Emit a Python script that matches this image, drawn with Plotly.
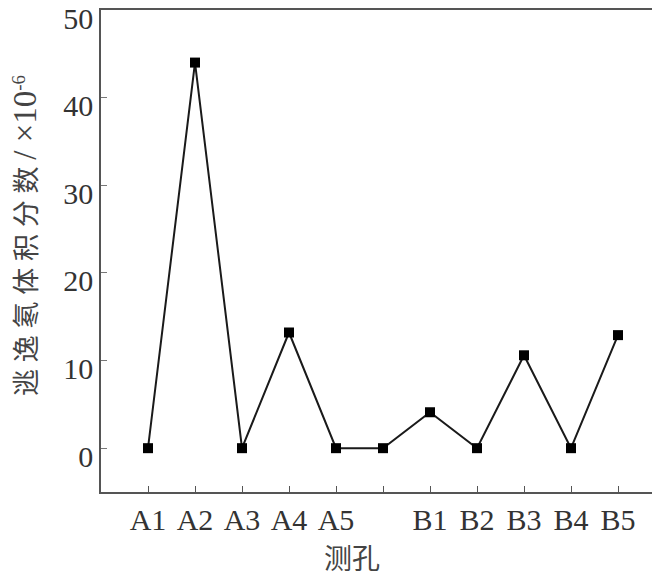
import plotly.graph_objects as go

categories = ["A1", "A2", "A3", "A4", "A5", "", "B1", "B2", "B3", "B4", "B5"]
values = [0, 44, 0, 13.2, 0, 0, 4.1, 0, 10.6, 0, 12.9]
y_ticks = [0, 10, 20, 30, 40, 50]

x_idx = list(range(len(categories)))

# the page body has an 8px margin, so figure coords = screen coords - 8
OFF = 8
W, H = 660, 583
L, R, T = 101 - OFF, 0, 2
B = H - (492 - OFF)
PW, PH = W - L - R, H - T - B
px_per_cat = 47.0
x_lo = -(148 - 101) / px_per_cat
x_hi = x_lo + PW / px_per_cat

fig = go.Figure()
fig.add_trace(go.Scatter(
    x=x_idx, y=values, mode="lines+markers",
    line=dict(color="#1a1a1a", width=2),
    marker=dict(symbol="square", size=10, color="#000000"),
    showlegend=False, cliponaxis=False,
))

num_font = dict(family="Liberation Serif, Times New Roman, serif", size=30, color="#333333")
cjk = "Liberation Serif, Noto Sans CJK SC"

fig.update_layout(
    width=W, height=H,
    margin=dict(l=L, r=R, t=T, b=B, pad=0),
    paper_bgcolor="white", plot_bgcolor="white",
    xaxis=dict(
        range=[x_lo, x_hi], tickmode="array", tickvals=x_idx, ticktext=categories,
        ticks="inside", ticklen=6, tickcolor="#555", tickwidth=1,
        showline=True, linecolor="#555", linewidth=1.5, mirror=True,
        showgrid=False, zeroline=False, tickfont=num_font, automargin=False,
    ),
    yaxis=dict(
        range=[-5, 50.0], tickmode="array", tickvals=y_ticks,
        ticks="inside", ticklen=6, tickcolor="#777", tickwidth=1,
        showline=True, linecolor="#555", linewidth=1.5, mirror=False,
        showgrid=False, zeroline=False, tickfont=num_font, automargin=False,
        ticklabelshift=8, ticklabeloverflow="allow",
    ),
    annotations=[
        dict(text="测孔", xref="paper", yref="paper",
             x=(352 - OFF - L) / PW, y=-(557 - OFF - (T + PH)) / PH,
             xanchor="center", yanchor="middle", showarrow=False,
             font=dict(family="Noto Sans CJK SC", size=28, color="#444444")),
        dict(text="逃 逸 氡 体 积 分 数 <span style=\"font-size:33px\">/ ×10</span><sup>-6</sup>",
             xref="paper", yref="paper",
             x=(25 - OFF - L) / PW, y=((T + PH) - (236 - OFF)) / PH, textangle=-90,
             xanchor="center", yanchor="middle", showarrow=False,
             font=dict(family=cjk, size=27, color="#444444")),
    ],
)

fig.write_html("out.html")
